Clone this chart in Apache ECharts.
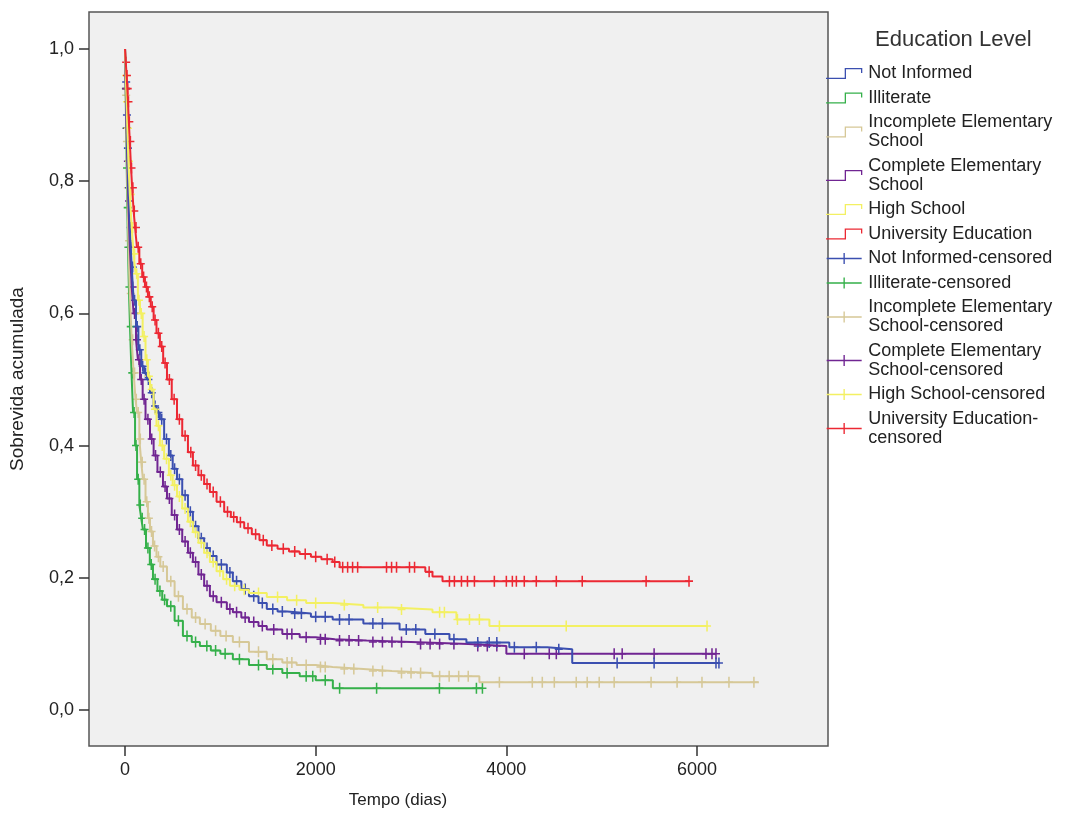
<!DOCTYPE html>
<html>
<head>
<meta charset="utf-8">
<script src="https://cdn.jsdelivr.net/npm/echarts@6/dist/echarts.min.js"></script>
<style>
  html, body { margin: 0; padding: 0; background: #fff; }
  #chart { width: 1073px; height: 814px; }
</style>
</head>
<body>
<div id="chart"></div>
<script>
// Kaplan-Meier steps: [days, cumulative survival after the drop]
const notInformed = [[0,1],[8,0.95],[16,0.90],[24,0.85],[35,0.79],[50,0.73],[70,0.67],[90,0.62],[115,0.58],[140,0.545],[170,0.52],[200,0.51],[230,0.50],[262,0.48],[300,0.46],[330,0.45],[366,0.44],[410,0.41],[460,0.385],[500,0.365],[545,0.349],[600,0.325],[660,0.30],[712,0.278],[770,0.26],[830,0.245],[890,0.233],[960,0.22],[1068,0.208],[1131,0.195],[1220,0.183],[1300,0.172],[1400,0.162],[1487,0.153],[1600,0.149],[1700,0.146],[1950,0.141],[2178,0.137],[2500,0.131],[2880,0.122],[3150,0.115],[3403,0.107],[3581,0.102],[4031,0.095],[4429,0.092],[4691,0.071],[6230,0.071]];
const illiterate = [[0,1],[6,0.94],[12,0.88],[18,0.82],[24,0.76],[31,0.70],[40,0.64],[52,0.58],[68,0.51],[84,0.45],[105,0.40],[126,0.349],[150,0.31],[170,0.29],[188,0.273],[220,0.245],[260,0.22],[293,0.198],[340,0.18],[390,0.167],[440,0.157],[520,0.135],[607,0.112],[700,0.103],[785,0.097],[900,0.09],[1000,0.085],[1131,0.077],[1300,0.068],[1487,0.062],[1650,0.056],[1832,0.051],[2000,0.045],[2180,0.033],[3749,0.033]];
const incompleteElem = [[0,1],[8,0.93],[16,0.86],[24,0.79],[35,0.71],[50,0.63],[70,0.56],[90,0.51],[110,0.47],[126,0.45],[150,0.41],[170,0.375],[188,0.349],[215,0.315],[240,0.29],[262,0.27],[293,0.248],[330,0.232],[370,0.217],[440,0.195],[520,0.172],[607,0.153],[700,0.14],[785,0.13],[900,0.12],[1000,0.112],[1131,0.103],[1300,0.088],[1487,0.077],[1650,0.072],[1800,0.068],[2000,0.065],[2178,0.062],[2500,0.059],[2800,0.056],[3225,0.051],[3717,0.042],[6649,0.042]];
const completeElem = [[0,1],[8,0.94],[16,0.88],[24,0.83],[35,0.77],[50,0.70],[70,0.64],[90,0.60],[115,0.56],[135,0.53],[157,0.50],[185,0.47],[215,0.44],[262,0.41],[300,0.385],[340,0.36],[398,0.338],[440,0.32],[490,0.295],[545,0.273],[600,0.255],[660,0.238],[712,0.224],[770,0.205],[830,0.188],[890,0.172],[960,0.163],[1068,0.153],[1131,0.148],[1220,0.14],[1300,0.133],[1400,0.127],[1487,0.122],[1650,0.115],[1832,0.110],[2000,0.107],[2200,0.105],[2534,0.103],[3000,0.100],[3600,0.097],[4000,0.085],[6199,0.085]];
const highSchool = [[0,1],[8,0.96],[16,0.92],[24,0.88],[35,0.83],[50,0.78],[70,0.73],[90,0.69],[110,0.66],[135,0.62],[157,0.60],[185,0.565],[215,0.53],[240,0.505],[262,0.485],[300,0.455],[330,0.43],[366,0.40],[410,0.38],[460,0.355],[500,0.34],[545,0.323],[600,0.305],[660,0.285],[712,0.269],[770,0.253],[830,0.238],[890,0.224],[960,0.21],[1030,0.198],[1100,0.188],[1200,0.182],[1300,0.177],[1487,0.171],[1700,0.166],[1900,0.162],[2178,0.159],[2500,0.155],[2800,0.152],[3225,0.148],[3476,0.137],[3822,0.127],[6105,0.127]];
const university = [[0,1],[8,0.98],[16,0.96],[24,0.94],[31,0.92],[40,0.89],[50,0.86],[63,0.82],[75,0.79],[90,0.755],[105,0.73],[125,0.70],[150,0.675],[180,0.655],[209,0.64],[240,0.625],[270,0.61],[300,0.59],[330,0.57],[366,0.55],[400,0.525],[440,0.50],[490,0.47],[545,0.44],[600,0.415],[660,0.39],[712,0.37],[770,0.355],[830,0.342],[890,0.33],[960,0.315],[1040,0.30],[1110,0.292],[1173,0.284],[1250,0.275],[1330,0.266],[1410,0.257],[1487,0.249],[1600,0.244],[1720,0.24],[1832,0.236],[1950,0.232],[2060,0.228],[2178,0.224],[2251,0.216],[3150,0.209],[3225,0.202],[3330,0.195],[5916,0.195]];

// censored cases: [days, survival]
const notInformedCens = [[12,0.95],[20,0.90],[30,0.85],[42,0.79],[60,0.73],[80,0.67],[100,0.62],[128,0.58],[155,0.545],[185,0.52],[215,0.51],[245,0.50],[280,0.48],[315,0.46],[350,0.45],[385,0.44],[435,0.41],[480,0.385],[520,0.365],[570,0.349],[630,0.325],[685,0.30],[740,0.278],[800,0.26],[860,0.245],[925,0.233],[1010,0.22],[1100,0.208],[1170,0.195],[1260,0.183],[1350,0.172],[1440,0.162],[1550,0.153],[1650,0.149],[1780,0.146],[1850,0.146],[2000,0.141],[2100,0.141],[2250,0.137],[2350,0.137],[2600,0.131],[2700,0.131],[2950,0.122],[3050,0.122],[3250,0.115],[3450,0.107],[3700,0.102],[3820,0.102],[3900,0.102],[4084,0.095],[4314,0.095],[4550,0.092],[5162,0.071],[5550,0.071],[6199,0.071],[6230,0.071]];
const illiterateCens = [[9,0.94],[15,0.88],[21,0.82],[28,0.76],[35,0.70],[46,0.64],[60,0.58],[76,0.51],[95,0.45],[115,0.40],[138,0.349],[160,0.31],[180,0.29],[205,0.273],[240,0.245],[275,0.22],[315,0.198],[366,0.18],[415,0.167],[480,0.157],[560,0.135],[650,0.112],[740,0.103],[858,0.097],[950,0.09],[1050,0.085],[1200,0.077],[1400,0.068],[1550,0.062],[1700,0.056],[1900,0.051],[1969,0.051],[2100,0.045],[2251,0.033],[2639,0.033],[3298,0.033],[3686,0.033],[3749,0.033]];
const incompleteElemCens = [[12,0.93],[20,0.86],[30,0.79],[42,0.71],[60,0.63],[80,0.56],[100,0.51],[118,0.47],[138,0.45],[160,0.41],[180,0.375],[200,0.349],[228,0.315],[250,0.29],[278,0.27],[310,0.248],[350,0.232],[400,0.217],[480,0.195],[560,0.172],[650,0.153],[740,0.14],[840,0.13],[950,0.12],[1060,0.112],[1200,0.103],[1400,0.088],[1550,0.077],[1700,0.072],[1750,0.072],[1900,0.068],[2050,0.065],[2100,0.065],[2300,0.062],[2400,0.062],[2600,0.059],[2700,0.059],[2900,0.056],[3000,0.056],[3100,0.056],[3300,0.051],[3400,0.051],[3500,0.051],[3600,0.051],[3927,0.042],[4272,0.042],[4377,0.042],[4503,0.042],[4733,0.042],[4848,0.042],[4974,0.042],[5131,0.042],[5518,0.042],[5791,0.042],[6052,0.042],[6335,0.042],[6597,0.042]];
const completeElemCens = [[12,0.94],[20,0.88],[30,0.83],[42,0.77],[60,0.70],[80,0.64],[100,0.60],[125,0.56],[146,0.53],[170,0.50],[200,0.47],[240,0.44],[280,0.41],[320,0.385],[370,0.36],[420,0.338],[465,0.32],[520,0.295],[570,0.273],[630,0.255],[685,0.238],[740,0.224],[800,0.205],[860,0.188],[925,0.172],[1010,0.163],[1100,0.153],[1170,0.148],[1260,0.14],[1350,0.133],[1440,0.127],[1560,0.122],[1700,0.115],[1750,0.115],[1900,0.110],[2050,0.107],[2100,0.107],[2250,0.105],[2350,0.105],[2450,0.105],[2600,0.103],[2700,0.103],[2800,0.103],[2900,0.103],[3100,0.100],[3200,0.100],[3300,0.100],[3450,0.100],[3700,0.097],[3800,0.097],[3900,0.097],[4188,0.085],[4450,0.085],[4524,0.085],[5131,0.085],[5215,0.085],[5550,0.085],[6094,0.085],[6157,0.085],[6199,0.085]];
const highSchoolCens = [[12,0.96],[20,0.92],[30,0.88],[42,0.83],[60,0.78],[80,0.73],[100,0.69],[122,0.66],[146,0.62],[170,0.60],[200,0.565],[228,0.53],[250,0.505],[280,0.485],[315,0.455],[350,0.43],[390,0.40],[435,0.38],[480,0.355],[520,0.34],[570,0.323],[630,0.305],[685,0.285],[740,0.269],[800,0.253],[860,0.238],[925,0.224],[995,0.21],[1065,0.198],[1150,0.188],[1250,0.182],[1400,0.177],[1600,0.171],[1800,0.166],[2000,0.162],[2300,0.159],[2650,0.155],[2900,0.152],[3300,0.148],[3350,0.148],[3487,0.137],[3613,0.137],[3717,0.137],[3927,0.127],[4628,0.127],[6105,0.127]];
const universityCens = [[12,0.98],[20,0.96],[28,0.94],[36,0.92],[45,0.89],[56,0.86],[68,0.82],[82,0.79],[97,0.755],[115,0.73],[138,0.70],[165,0.675],[195,0.655],[225,0.64],[255,0.625],[285,0.61],[315,0.59],[350,0.57],[385,0.55],[420,0.525],[465,0.50],[515,0.47],[570,0.44],[630,0.415],[690,0.39],[740,0.37],[800,0.355],[860,0.342],[925,0.33],[1000,0.315],[1075,0.30],[1140,0.292],[1210,0.284],[1290,0.275],[1370,0.266],[1450,0.257],[1540,0.249],[1660,0.244],[1780,0.24],[1890,0.236],[2000,0.232],[2120,0.228],[2200,0.224],[2283,0.216],[2335,0.216],[2387,0.216],[2440,0.216],[2743,0.216],[2796,0.216],[2848,0.216],[2984,0.216],[3037,0.216],[3190,0.209],[3403,0.195],[3455,0.195],[3529,0.195],[3592,0.195],[3665,0.195],[3874,0.195],[4000,0.195],[4063,0.195],[4105,0.195],[4188,0.195],[4314,0.195],[4524,0.195],[4796,0.195],[5466,0.195],[5916,0.195]];

const groupNames = ['Not Informed', 'Illiterate', 'Incomplete Elementary\nSchool', 'Complete Elementary\nSchool', 'High School', 'University Education'];
const censoredNames = ['Not Informed-censored', 'Illiterate-censored', 'Incomplete Elementary\nSchool-censored', 'Complete Elementary\nSchool-censored', 'High School-censored', 'University Education-\ncensored'];
const groupColors = ['#3b4fb0', '#35b04a', '#d6c897', '#702592', '#f3f062', '#ec2833'];
const curves = [notInformed, illiterate, incompleteElem, completeElem, highSchool, university];
const censored = [notInformedCens, illiterateCens, incompleteElemCens, completeElemCens, highSchoolCens, universityCens];
const xTicks = [0, 2000, 4000, 6000];
const yTicks = [0, 0.2, 0.4, 0.6, 0.8, 1.0];

const chart = echarts.init(document.getElementById('chart'));

const stepIcon = 'path://M0,11 L20,11 L20,1.3 L35,1.3 L35,5 L36.3,5 L36.3,0 L18.7,0 L18.7,9.7 L0,9.7 Z';
const censIcon = 'path://M0,5 L17.3,5 L17.3,0 L18.7,0 L18.7,5 L36,5 L36,6.3 L18.7,6.3 L18.7,11.3 L17.3,11.3 L17.3,6.3 L0,6.3 Z';
const plusMark = 'path://M3.8,0 L5.6,0 L5.6,4.3 L9.4,4.3 L9.4,5.7 L5.6,5.7 L5.6,10 L3.8,10 L3.8,5.7 L0,5.7 L0,4.3 L3.8,4.3 Z';

// drawing order: red on top
const drawOrder = [1, 2, 3, 0, 4, 5];
const series = [];
drawOrder.forEach(i => {
  series.push({
    name: groupNames[i],
    type: 'line',
    step: 'end',
    data: curves[i],
    showSymbol: false,
    lineStyle: { color: groupColors[i], width: 2 },
    itemStyle: { color: groupColors[i] },
    silent: true
  });
  series.push({
    name: censoredNames[i],
    type: 'scatter',
    data: censored[i],
    symbol: plusMark,
    symbolSize: [8, 11],
    itemStyle: { color: groupColors[i], opacity: 1 },
    silent: true
  });
});

const legendData = groupNames.map((n, i) => ({ name: n, icon: stepIcon, itemStyle: { color: groupColors[i] } }))
  .concat(censoredNames.map((n, i) => ({ name: n, icon: censIcon, itemStyle: { color: groupColors[i] } })));

const font = 'Liberation Sans, Arial, sans-serif';

const option = {
  animation: false,
  backgroundColor: '#ffffff',
  textStyle: { fontFamily: font },
  title: {
    text: 'Education Level',
    left: 870,
    top: 24,
    textStyle: { fontSize: 22, fontWeight: 'normal', color: '#333', fontFamily: font }
  },
  legend: {
    orient: 'vertical',
    left: 826,
    top: 64,
    padding: 0,
    itemWidth: 38,
    itemHeight: 11,
    itemGap: 5.5,
    selectedMode: false,
    data: legendData,
    textStyle: { fontSize: 18, lineHeight: 19, color: '#222', fontFamily: font }
  },
  grid: {
    left: 89,
    top: 12,
    width: 739,
    height: 735,
    show: true,
    backgroundColor: '#f0f0f0',
    borderColor: '#555',
    borderWidth: 1.5
  },
  xAxis: {
    type: 'value',
    min: -378,
    max: 7374,
    name: 'Tempo (dias)',
    nameLocation: 'middle',
    nameGap: 46,
    nameTextStyle: { fontSize: 17, color: '#222', padding: [0, 121, 0, 0] },
    axisLine: { show: false, onZero: false },
    splitLine: { show: false },
    axisTick: { show: true, inside: false, length: 10, customValues: xTicks, lineStyle: { color: '#333', width: 1.5 } },
    axisLabel: { customValues: xTicks, fontSize: 18, color: '#222', margin: 15, formatter: v => String(v) }
  },
  yAxis: {
    type: 'value',
    min: -0.0544,
    max: 1.0559,
    name: 'Sobrevida acumulada',
    nameLocation: 'middle',
    nameGap: 62,
    nameTextStyle: { fontSize: 19, color: '#222' },
    axisLine: { show: false, onZero: false },
    splitLine: { show: false },
    axisTick: { show: true, inside: false, length: 10, customValues: yTicks, lineStyle: { color: '#333', width: 1.5 } },
    axisLabel: {
      customValues: yTicks,
      fontSize: 18,
      color: '#222',
      margin: 15,
      formatter: v => v.toFixed(1).replace('.', ',')
    }
  },
  series: series
};

chart.setOption(option);
</script>
</body>
</html>
